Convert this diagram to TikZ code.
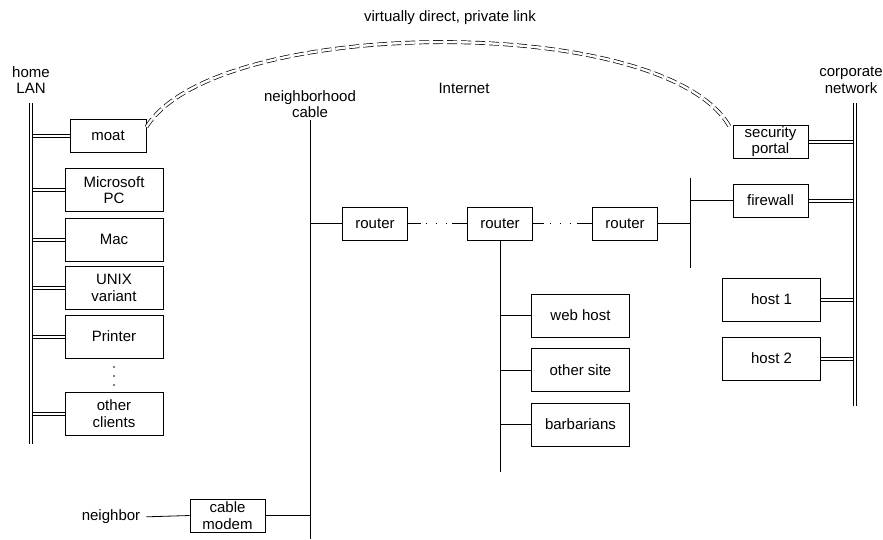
\documentclass[tikz,border=0pt]{standalone}
\usepackage{fontspec}
\setmainfont{Liberation Sans}
\newcommand\dfont{\fontsize{15}{16.5}\selectfont}
\begin{document}
\begin{tikzpicture}[x=1pt,y=-1pt,
  lab/.style={inner sep=0pt, align=center, font=\dfont},
  box/.style={draw, line width=0.8pt, inner sep=0pt, align=center, font=\dfont, fill=white},
  wide/.style={minimum width=98pt, minimum height=43pt},
  narrow/.style={minimum width=75pt, minimum height=33pt},
  rbox/.style={minimum width=65pt, minimum height=33pt},
  wire/.style={line width=0.8pt},
  thin/.style={line width=0.7pt},
  lan/.style={double, double distance=2.4pt, line width=0.7pt},
  dotline/.style={wire, dash pattern=#1}]
\path[use as bounding box] (0,0) rectangle (883,539);

% labels
\node[lab] (vlink) at (450,18) {virtually direct, private link};
\node[lab] (homelan) at (31,80) {home\\LAN};
\node[lab] (nbcable) at (310,104) {neighborhood\\cable};
\node[lab] (internet) at (464,88) {Internet};
\node[lab] (corpnet) at (851,80) {corporate\\network};
\node[lab] (neighbor) at (111,517) {neighbor};

% bus coordinates
\coordinate (hb1) at (31,103);
\coordinate (hb2) at (31,444);
\coordinate (hbx) at (32.4,0);
\coordinate (nb1) at (310,120);
\coordinate (nb2) at (310,539);
\coordinate (ib2) at (500,472);
\coordinate (fb1) at (690,178);
\coordinate (fb2) at (690,268);
\coordinate (cb1) at (855,103);
\coordinate (cb2) at (855,406);
\coordinate (cbx) at (853.6,0);

% home LAN boxes
\node[box, minimum width=76pt, minimum height=33pt] (moat) at (108,136) {moat};
\node[box, wide] (mspc) at (114,190) {Microsoft\\PC};
\node[box, wide] (mac) at (114,239.5) {Mac};
\node[box, wide] (unix) at (114,288) {UNIX\\variant};
\node[box, wide] (printer) at (114,336.5) {Printer};
\node[box, wide] (other) at (114,413.5) {other\\clients};
\fill (114,367) circle (0.9pt);
\fill (114,376) circle (0.9pt);
\fill (114,385) circle (0.9pt);

% cable / internet
\node[box, narrow] (modem) at (227.5,515.5) {cable\\modem};
\node[box, rbox] (r1) at (375,223.5) {router};
\node[box, rbox] (r2) at (500,223.5) {router};
\node[box, rbox] (r3) at (625,223.5) {router};
\node[box, wide] (web) at (580.5,315.5) {web host};
\node[box, wide] (osite) at (580.5,370) {other site};
\node[box, wide] (barb) at (580.5,424.5) {barbarians};

% corporate
\node[box, narrow] (sp) at (770.5,141.5) {security\\portal};
\node[box, narrow] (fw) at (770.5,200.5) {firewall};
\node[box, wide] (h1) at (771.5,299.5) {host 1};
\node[box, wide] (h2) at (771.5,358.5) {host 2};

% home LAN connectors (pairs of lines) and bus
\foreach \n in {moat,mspc,mac,unix,printer,other}{
  \draw[thin] ([yshift=1.55pt]\n.west) -- ([yshift=1.55pt]\n.west -| hbx);
  \draw[thin] ([yshift=-1.55pt]\n.west) -- ([yshift=-1.55pt]\n.west -| hbx);
}
\draw[lan] (hb1) -- (hb2);

% neighborhood cable
\draw[wire] (nb1) -- (nb2);
\draw[wire] (r1.west) -- (r1.west -| nb1);
\draw[wire] (modem.east) -- (modem.east -| nb1);
\draw[wire, shorten <=6pt] (neighbor.east) -- (modem.west);

% internet
\draw[dotline={on 13pt off 5pt on 1pt off 9pt on 1pt off 9pt on 1pt off 5pt on 30pt}] (r1.east) -- (r2.west);
\draw[dotline={on 11pt off 6pt on 1pt off 9pt on 1pt off 9pt on 1pt off 6pt on 30pt}] (r2.east) -- (r3.west);
\draw[wire] (r2.south) -- (ib2);
\foreach \n in {web,osite,barb}
  \draw[wire] (\n.west) -- (\n.west -| ib2);

% firewall side
\draw[wire] (fb1) -- (fb2);
\draw[wire] (r3.east) -- (r3.east -| fb1);
\draw[wire] (fw.west) -- (fw.west -| fb1);

% corporate bus
\foreach \n in {sp,fw,h1,h2}{
  \draw[thin] ([yshift=1.55pt]\n.east) -- ([yshift=1.55pt]\n.east -| cbx);
  \draw[thin] ([yshift=-1.55pt]\n.east) -- ([yshift=-1.55pt]\n.east -| cbx);
}
\draw[lan] (cb1) -- (cb2);

% private link
\draw[lan, dash pattern=on 10pt off 4pt] ([yshift=-8pt]moat.north east)
  .. controls (215,15) and (670,12) .. ([xshift=-2pt,yshift=-4pt]sp.north west);
\end{tikzpicture}
\end{document}
